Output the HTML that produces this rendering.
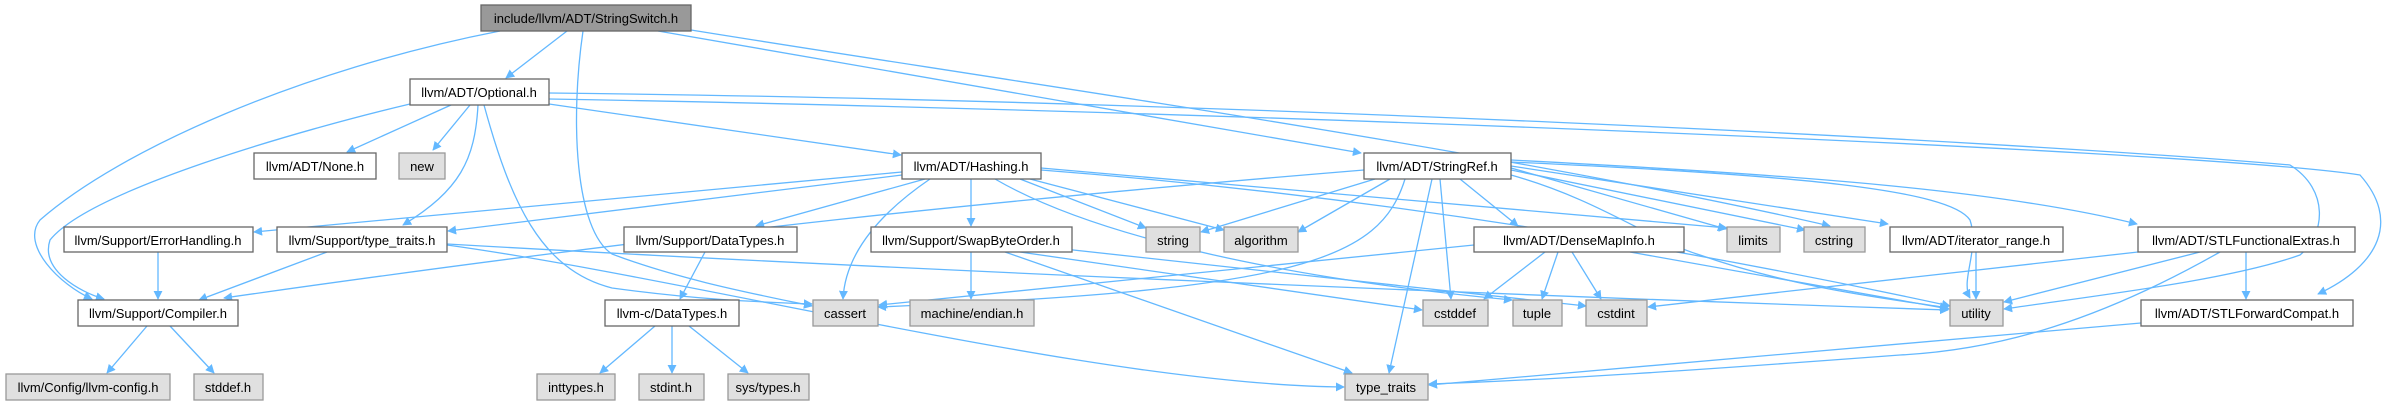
<!DOCTYPE html>
<html><head><meta charset="utf-8"><style>
html,body{margin:0;padding:0;background:#fff;width:2390px;height:405px;overflow:hidden}
svg text{font-family:"Liberation Sans",sans-serif;font-size:13px;text-anchor:middle;fill:#000}
.e{fill:none;stroke:#63b8ff;stroke-width:1.3}
.w{fill:#fff;stroke:#666;stroke-width:1.3}
.g{fill:#e0e0e0;stroke:#999;stroke-width:1.3}
.r{fill:#999;stroke:#666;stroke-width:1.3}
</style></head><body>
<svg width="2390" height="405" viewBox="0 0 2390 405" xmlns="http://www.w3.org/2000/svg">
<defs><marker id="a" viewBox="0 0 10 10" refX="9" refY="5" markerWidth="9" markerHeight="9" orient="auto" markerUnits="userSpaceOnUse"><path d="M0,0L10,5L0,10z" fill="#63b8ff"/></marker></defs>
<g class="e" marker-end="url(#a)">
<path d="M500,31 C300,70 120,150 40,220 C20,245 60,285 92,299"/>
<path d="M567,31 L506,78"/>
<path d="M583,31 C570,120 575,230 612,254 C680,280 760,295 812,306"/>
<path d="M658,31 L1361,153"/>
<path d="M691,30 C1000,80 1500,150 1830,226"/>
<path d="M410,104 C300,130 90,190 50,240 C40,270 80,292 104,299"/>
<path d="M451,105 L347,152"/>
<path d="M470,105 L433,150"/>
<path d="M478,105 C475,160 460,190 403,225"/>
<path d="M484,105 C510,200 540,270 612,288 C700,300 760,302 812,304"/>
<path d="M549,93 C1200,100 2000,140 2290,165 C2330,190 2325,235 2300,255 C2230,280 2100,295 2004,309"/>
<path d="M549,99 C1200,110 2200,150 2360,175 C2400,220 2380,265 2318,294"/>
<path d="M549,104 L901,155"/>
<path d="M902,172 L254,232"/>
<path d="M902,175 L448,231"/>
<path d="M925,179 L756,226"/>
<path d="M930,179 C870,220 845,260 843,299"/>
<path d="M971,179 L971,226"/>
<path d="M1020,179 L1146,228"/>
<path d="M1030,179 L1224,230"/>
<path d="M995,179 C1100,240 1300,280 1512,300"/>
<path d="M1041,170 C1300,190 1600,230 1950,306"/>
<path d="M1041,168 L1727,228"/>
<path d="M1364,170 C1000,200 700,230 224,298"/>
<path d="M1375,179 L1201,232"/>
<path d="M1390,179 L1298,232"/>
<path d="M1405,179 C1380,260 1300,290 878,307"/>
<path d="M1432,179 L1389,373"/>
<path d="M1440,179 L1451,299"/>
<path d="M1460,179 L1518,226"/>
<path d="M1511,168 L1726,229"/>
<path d="M1511,170 L1805,230"/>
<path d="M1511,166 L1888,224"/>
<path d="M1511,160 C1800,175 2000,190 2137,224"/>
<path d="M1511,162 C1800,175 1950,190 1970,220 C1980,250 1960,280 1970,298"/>
<path d="M1511,175 C1600,200 1650,240 1700,255 C1800,290 1900,300 1948,308"/>
<path d="M447,245 C700,280 1100,385 1344,387"/>
<path d="M447,244 C900,270 1500,295 1948,310"/>
<path d="M327,252 L199,300"/>
<path d="M158,252 L158,299"/>
<path d="M147,326 L107,373"/>
<path d="M170,326 L214,373"/>
<path d="M705,252 L680,299"/>
<path d="M655,326 L600,373"/>
<path d="M672,326 L672,373"/>
<path d="M689,326 L748,373"/>
<path d="M971,252 L971,299"/>
<path d="M1005,252 L1352,373"/>
<path d="M1055,248 L1586,306"/>
<path d="M1020,252 L1422,310"/>
<path d="M1474,245 L879,305"/>
<path d="M1545,252 L1484,299"/>
<path d="M1558,252 L1542,299"/>
<path d="M1572,252 L1601,299"/>
<path d="M1630,252 L1949,309"/>
<path d="M1976,252 L1976,299"/>
<path d="M2138,252 L1648,307"/>
<path d="M2200,252 L2004,302"/>
<path d="M2246,252 L2246,299"/>
<path d="M2220,252 C2100,320 2000,350 1900,355 C1700,370 1550,380 1429,384"/>
<path d="M2141,323 L1429,385"/>
</g>
<rect class="r" x="481" y="5" width="210" height="26"/><text x="586" y="23">include/llvm/ADT/StringSwitch.h</text>
<rect class="w" x="410" y="79" width="139" height="26"/><text x="479" y="97">llvm/ADT/Optional.h</text>
<rect class="w" x="254" y="153" width="122" height="26"/><text x="315" y="171">llvm/ADT/None.h</text>
<rect class="g" x="399" y="153" width="46" height="26"/><text x="422" y="171">new</text>
<rect class="w" x="902" y="153" width="139" height="26"/><text x="971" y="171">llvm/ADT/Hashing.h</text>
<rect class="w" x="1364" y="153" width="147" height="26"/><text x="1437" y="171">llvm/ADT/StringRef.h</text>
<rect class="w" x="64" y="227" width="189" height="25"/><text x="158" y="245">llvm/Support/ErrorHandling.h</text>
<rect class="w" x="277" y="227" width="170" height="25"/><text x="362" y="245">llvm/Support/type_traits.h</text>
<rect class="w" x="624" y="227" width="173" height="25"/><text x="710" y="245">llvm/Support/DataTypes.h</text>
<rect class="w" x="871" y="227" width="201" height="25"/><text x="971" y="245">llvm/Support/SwapByteOrder.h</text>
<rect class="g" x="1146" y="227" width="54" height="25"/><text x="1173" y="245">string</text>
<rect class="g" x="1224" y="227" width="74" height="25"/><text x="1261" y="245">algorithm</text>
<rect class="w" x="1474" y="227" width="210" height="25"/><text x="1579" y="245">llvm/ADT/DenseMapInfo.h</text>
<rect class="g" x="1727" y="227" width="53" height="25"/><text x="1753" y="245">limits</text>
<rect class="g" x="1804" y="227" width="61" height="25"/><text x="1834" y="245">cstring</text>
<rect class="w" x="1890" y="227" width="173" height="25"/><text x="1976" y="245">llvm/ADT/iterator_range.h</text>
<rect class="w" x="2138" y="227" width="217" height="25"/><text x="2246" y="245">llvm/ADT/STLFunctionalExtras.h</text>
<rect class="w" x="78" y="300" width="160" height="26"/><text x="158" y="318">llvm/Support/Compiler.h</text>
<rect class="w" x="605" y="300" width="134" height="26"/><text x="672" y="318">llvm-c/DataTypes.h</text>
<rect class="g" x="813" y="300" width="65" height="26"/><text x="845" y="318">cassert</text>
<rect class="g" x="910" y="300" width="124" height="26"/><text x="972" y="318">machine/endian.h</text>
<rect class="g" x="1423" y="300" width="65" height="26"/><text x="1455" y="318">cstddef</text>
<rect class="g" x="1513" y="300" width="49" height="26"/><text x="1537" y="318">tuple</text>
<rect class="g" x="1586" y="300" width="61" height="26"/><text x="1616" y="318">cstdint</text>
<rect class="g" x="1950" y="300" width="53" height="26"/><text x="1976" y="318">utility</text>
<rect class="w" x="2141" y="300" width="212" height="26"/><text x="2247" y="318">llvm/ADT/STLForwardCompat.h</text>
<rect class="g" x="6" y="374" width="164" height="26"/><text x="88" y="392">llvm/Config/llvm-config.h</text>
<rect class="g" x="194" y="374" width="69" height="26"/><text x="228" y="392">stddef.h</text>
<rect class="g" x="537" y="374" width="78" height="26"/><text x="576" y="392">inttypes.h</text>
<rect class="g" x="639" y="374" width="65" height="26"/><text x="671" y="392">stdint.h</text>
<rect class="g" x="728" y="374" width="81" height="26"/><text x="768" y="392">sys/types.h</text>
<rect class="g" x="1345" y="374" width="83" height="26"/><text x="1386" y="392">type_traits</text>
</svg>
</body></html>
